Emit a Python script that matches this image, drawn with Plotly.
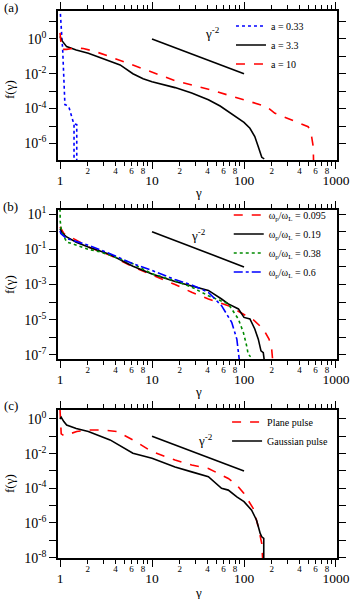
import plotly.graph_objects as go

# ---------------- data ----------------
# panel (a)
g_a033 = [1.0, 1.07, 1.13, 1.2, 1.25, 1.34, 1.39, 1.42, 1.42, None, 1.45, 1.52, 1.52]
f_a033 = [60, 0.2, 1.7e-4, 1.5e-4, 1.2e-4, 3e-5, 1.5e-5, 1.2e-5, 1e-7, None, 1.3e-5, 1.2e-5, 1e-7]

g_a33 = [1.0, 1.05, 1.18, 1.5, 2.03, 3.5, 4.5, 6.2, 8.0, 10, 17.8, 27, 41, 55, 67.5, 76, 100, 116, 131, 143, 156, 166]
f_a33 = [1.4, 0.79, 0.36, 0.23, 0.15, 0.056, 0.032, 0.010, 0.0052, 0.0035, 0.0016, 7.9e-4, 3.2e-4, 1.4e-4,
         6.6e-5, 4.3e-5, 1.6e-5, 7.4e-6, 2.5e-6, 6.5e-7, 1.6e-7, 1.3e-7]

g_a10 = [1.0, 1.02, 1.04, 1.18, 1.45, 1.79, 2.4, 3.5, 6.2, 10, 17.8, 41, 100, 176, 217, 330, 422, 498, 522, 543, 566, 570]
f_a10 = [2.2, 0.5, 0.25, 0.25, 0.30, 0.28, 0.19, 0.095, 0.032, 0.013, 0.004, 0.0013, 3.2e-4, 1.3e-4, 5.4e-5,
         2.2e-5, 1.4e-5, 9.1e-6, 5.9e-6, 2.5e-6, 6.5e-7, 1e-7]

# panel (b)
g_b095 = [1.0, 1.1, 1.52, 2.03, 3.5, 6.2, 10, 14.4, 17.8, 27, 41, 67.5, 100, 126, 162, 187, 200, 205]
f_b095 = [1.86, 0.79, 0.32, 0.135, 0.046, 0.010, 0.0035, 0.0016, 0.0010, 3.6e-4, 1.5e-4, 6.3e-5, 2.1e-5,
          1.0e-5, 3.0e-6, 7.9e-7, 2.1e-7, 5e-8]

g_b19 = [1.0, 1.05, 1.18, 1.5, 2.03, 3.5, 6.2, 10, 17.8, 27, 41, 57, 67.5, 87, 100, 116, 131, 143, 153, 162, 166]
f_b19 = [1.5, 0.89, 0.5, 0.25, 0.135, 0.05, 0.011, 0.0040, 0.0015, 7.9e-4, 4.6e-4, 1.5e-4, 7.9e-5, 4.1e-5,
         1.35e-5, 1.1e-5, 3.0e-6, 7.9e-7, 1.7e-7, 1.35e-7, 5e-8]

g_b38 = [1.0, 1.005, 1.04, 1.18, 1.52, 2.03, 2.72, 3.5, 6.2, 10, 17.8, 27, 41, 67.5, 86.8, 98.4, 107, 111, 118]
f_b38 = [20, 4.0, 0.98, 0.26, 0.17, 0.10, 0.071, 0.046, 0.015, 0.0041, 0.0016, 7.1e-4, 2.3e-4, 7.9e-5,
         1.1e-5, 1.9e-6, 3.2e-7, 1.1e-7, 7.9e-8]

g_b06 = [1.0, 1.02, 1.18, 2.03, 3.5, 6.2, 10, 17.8, 27, 41, 57, 73.5, 83.6, 88, 89]
f_b06 = [1.12, 0.79, 0.41, 0.17, 0.056, 0.015, 0.0063, 0.0019, 9.5e-4, 3.6e-4, 6.3e-5, 7.1e-6, 7.9e-7, 1e-7, 5e-8]

# panel (c)
g_plane = [1.0, 1.01, 1.03, 1.1, 1.18, 1.52, 2.03, 2.96, 4.13, 6.2, 10, 17.8, 27, 41, 67.5, 83.6, 100, 126, 143, 156, 160]
f_plane = [3.5, 0.5, 0.14, 0.11, 0.12, 0.19, 0.23, 0.23, 0.19, 0.062, 0.013, 0.0043, 0.0022, 0.0014, 3.7e-4,
           1.55e-4, 5e-5, 6.9e-6, 5.9e-7, 6.5e-8, 6e-9]

g_gauss = [1.0, 1.03, 1.1, 1.18, 1.5, 2.03, 3.5, 6.2, 10, 17.8, 27, 41, 57, 67.5, 83.6, 100, 121, 137, 150, 156, 164, 164]
f_gauss = [1.0, 1.26, 0.71, 0.45, 0.28, 0.19, 0.062, 0.0105, 0.0054, 0.0017, 8.9e-4, 4.7e-4, 1.0e-4, 7.9e-5,
           3.2e-5, 1.7e-5, 5.5e-6, 1.45e-6, 2.5e-7, 1.6e-7, 1.3e-7, 6e-9]

# reference power law gamma^-2
g_ref = [10, 100]
f_ref_ab = [1.0, 0.01]
f_ref_c = [0.1, 0.001]

# ticks
x_decade_vals = [1, 10, 100, 1000]
x_decade_text = ["1", "10", "100", "1000"]
x_small_vals = [2, 4, 6, 8, 20, 40, 60, 80, 200, 400, 600, 800]
x_small_text = ["2", "4", "6", "8", "2", "4", "6", "8", "2", "4", "6", "8"]
x_minor_vals = [2, 3, 4, 5, 6, 7, 8, 9, 20, 30, 40, 50, 60, 70, 80, 90,
                200, 300, 400, 500, 600, 700, 800, 900]

ya_exp = [1, 0, -1, -2, -3, -4, -5, -6]
yb_exp = [1, 0, -1, -2, -3, -4, -5, -6, -7]
yc_exp = [0, -1, -2, -3, -4, -5, -6, -7, -8]

SERIF = "Liberation Serif"
RED = "#ff0000"
BLUE = "#0000ff"
GREEN = "#008a00"
XRANGE = [-0.022, 3.011]

fig = go.Figure()


def line(x, y, name, color, dash, ax, legend, show=True):
    fig.add_trace(go.Scatter(
        x=x, y=y, mode="lines", name=name, connectgaps=False,
        line=dict(color=color, dash=dash, width=1.6),
        xaxis="x" + ax, yaxis="y" + ax, legend=legend, showlegend=show,
    ))


# (a)
line(g_a033, f_a033, "a = 0.33", BLUE, "dot", "", "legend")
line(g_a33, f_a33, "a = 3.3", "black", "solid", "", "legend")
line(g_a10, f_a10, "a = 10", RED, "dash", "", "legend")
line(g_ref, f_ref_ab, "ref", "black", "solid", "", "legend", False)
# (b)
line(g_b095, f_b095, "ω<sub>p</sub>/ω<sub>L</sub> = 0.095", RED, "dash", "2", "legend2")
line(g_b19, f_b19, "ω<sub>p</sub>/ω<sub>L</sub> = 0.19", "black", "solid", "2", "legend2")
line(g_b38, f_b38, "ω<sub>p</sub>/ω<sub>L</sub> = 0.38", GREEN, "dot", "2", "legend2")
line(g_b06, f_b06, "ω<sub>p</sub>/ω<sub>L</sub> = 0.6", BLUE, "dashdot", "2", "legend2")
line(g_ref, f_ref_ab, "ref", "black", "solid", "2", "legend2", False)
# (c)
line(g_plane, f_plane, "Plane pulse", RED, "dash", "3", "legend3")
line(g_gauss, f_gauss, "Gaussian pulse", "black", "solid", "3", "legend3")
line(g_ref, f_ref_c, "ref", "black", "solid", "3", "legend3", False)

# empty traces so that the small-label overlay axes get their subplots
for ax, ya in [("4", "y"), ("5", "y2"), ("6", "y3")]:
    fig.add_trace(go.Scatter(x=[], y=[], xaxis="x" + ax, yaxis=ya, showlegend=False,
                             hoverinfo="skip"))


def xaxis(anchor):
    return dict(
        type="log", range=XRANGE, anchor=anchor,
        tickmode="array", tickvals=x_decade_vals, ticktext=x_decade_text, tickangle=0,
        ticks="outside", ticklen=7, tickwidth=1, tickcolor="black",
        showline=True, linecolor="black", linewidth=1.5, mirror="allticks",
        showgrid=False, zeroline=False,
        tickfont=dict(family=SERIF, size=13.5, color="black"),
        minor=dict(tickvals=x_minor_vals, ticks="outside", ticklen=4, tickwidth=1,
                   tickcolor="black", showgrid=False),
    )


def xaxis_small(over, anchor):
    return dict(
        type="log", range=XRANGE, anchor=anchor, overlaying=over, side="bottom",
        tickmode="array", tickvals=x_small_vals, ticktext=x_small_text, tickangle=0,
        ticks="outside", ticklen=2, tickwidth=1, tickcolor="rgba(0,0,0,0)",
        showline=False, showgrid=False, zeroline=False,
        tickfont=dict(family=SERIF, size=9, color="black"),
    )


def yaxis(anchor, domain, rng, exps, labelled):
    return dict(
        type="log", range=rng, anchor=anchor, domain=domain,
        tickmode="array", tickvals=[10.0 ** e for e in exps],
        ticktext=[("10<sup>%d</sup>" % e) if labelled(e) else "" for e in exps],
        ticks="outside", ticklen=7, tickwidth=1, tickcolor="black",
        showline=True, linecolor="black", linewidth=1.5, mirror="allticks",
        showgrid=False, zeroline=False,
        tickfont=dict(family=SERIF, size=14, color="black"),
    )


def legend(x, y):
    return dict(x=x, y=y, xanchor="left", yanchor="top", bgcolor="rgba(0,0,0,0)",
                borderwidth=0, font=dict(family=SERIF, size=10, color="black"),
                tracegroupgap=0)


def note(text, xref, yref, x, y, angle=0):
    return dict(text=text, xref=xref, yref=yref, x=x, y=y, showarrow=False,
                xanchor="center", yanchor="middle", textangle=angle,
                font=dict(family=SERIF, size=13, color="black"))


ann = []
for lab, yp in [("(a)", 1.0073), ("(b)", 0.6417), ("(c)", 0.2797)]:
    ann.append(note(lab, "paper", "paper", -0.1685, yp))
for yp in [0.8556, 0.4991, 0.1353]:
    ann.append(note("f(γ)", "paper", "paper", -0.172, yp, -90))
for yp in [0.6673, 0.3035, -0.0622]:
    ann.append(note("γ", "paper", "paper", 0.502, yp))
for ax, xv, yv in [("", 1.66, 0.34), ("2", 1.5, -0.2), ("3", 1.576, -1.21)]:
    ann.append(note("γ<sup>-2</sup>", "x" + ax, "y" + ax, xv, yv))

fig.update_layout(
    width=350, height=599,
    margin=dict(l=58, r=13, t=11, b=41, autoexpand=False),
    paper_bgcolor="white", plot_bgcolor="white",
    xaxis=xaxis("y"), xaxis2=xaxis("y2"), xaxis3=xaxis("y3"),
    xaxis4=xaxis_small("x", "y"), xaxis5=xaxis_small("x2", "y2"), xaxis6=xaxis_small("x3", "y3"),
    yaxis=yaxis("x", [0.7276, 1.0], [-6.95, 1.6], ya_exp, lambda e: e % 2 == 0),
    yaxis2=yaxis("x2", [0.3638, 0.6362], [-7.23, 1.23], yb_exp, lambda e: e % 2 != 0),
    yaxis3=yaxis("x3", [0.0, 0.2706], [-8.02, 0.52], yc_exp, lambda e: e % 2 == 0),
    legend=legend(0.62, 0.999),
    legend2=legend(0.612, 0.6536),
    legend3=legend(0.606, 0.2751),
    annotations=ann,
    font=dict(family=SERIF, color="black"),
)

fig.write_html("out.html", config={"displayModeBar": False},
               post_script="document.body.style.margin='0px';document.body.style.overflow='hidden';")
